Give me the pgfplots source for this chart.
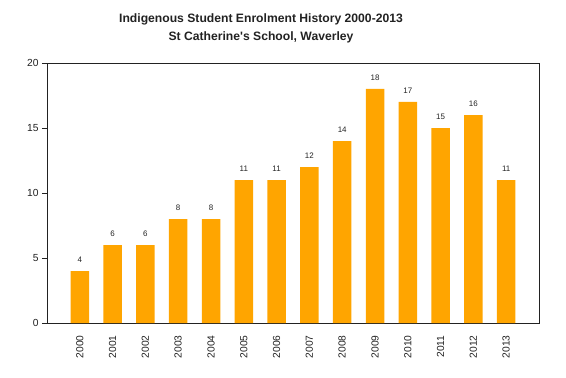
\documentclass[border=0pt]{standalone}
\usepackage{fontspec}
\setmainfont{Liberation Sans}
\usepackage{pgfplots}
\pgfplotsset{compat=1.18}
\definecolor{barorange}{HTML}{FFA500}
\definecolor{axgray}{HTML}{222222}
\begin{document}
\begin{tikzpicture}[x=1bp,y=1bp]
\path[use as bounding box] (-47,-54) rectangle (519,323);
\node[font=\fontsize{12.2}{14}\selectfont\bfseries, text=axgray] at (214,304) {Indigenous Student Enrolment History 2000-2013};
\node[font=\fontsize{12.2}{14}\selectfont\bfseries, text=axgray] at (214,286) {St Catherine\textquotesingle s School, Waverley};
\begin{axis}[
  at={(0,0)}, anchor=south west,
  scale only axis,
  width=492bp, height=260bp,
  xmin=-1, xmax=14,
  ymin=0, ymax=20,
  ytick={0,5,10,15,20},
  ytick pos=left,
  xtick=data,
  xticklabels={2000,2001,2002,2003,2004,2005,2006,2007,2008,2009,2010,2011,2012,2013},
  x tick label style={rotate=90, anchor=east, font=\fontsize{10.3}{12}\selectfont, text=axgray},
  y tick label style={font=\fontsize{10.3}{12}\selectfont, text=axgray},
  /pgf/number format/assume math mode=true,
  xtick style={draw=none},
  ytick style={draw=axgray, line width=0.9pt},
  tick align=outside,
  major tick length=5bp,
  axis line style={draw=axgray, line width=0.9pt},
  xticklabel shift=4bp,
  yticklabel shift=0bp,
  ybar,
  bar width=18.5bp,
  nodes near coords,
  every node near coord/.append style={font=\fontsize{8}{9}\selectfont, text=axgray, yshift=5bp},
  clip=false,
]
\addplot[fill=barorange, draw=none] coordinates {
(0,4) (1,6) (2,6) (3,8) (4,8) (5,11) (6,11) (7,12) (8,14) (9,18) (10,17) (11,15) (12,16) (13,11)
};
\end{axis}
\end{tikzpicture}
\end{document}
